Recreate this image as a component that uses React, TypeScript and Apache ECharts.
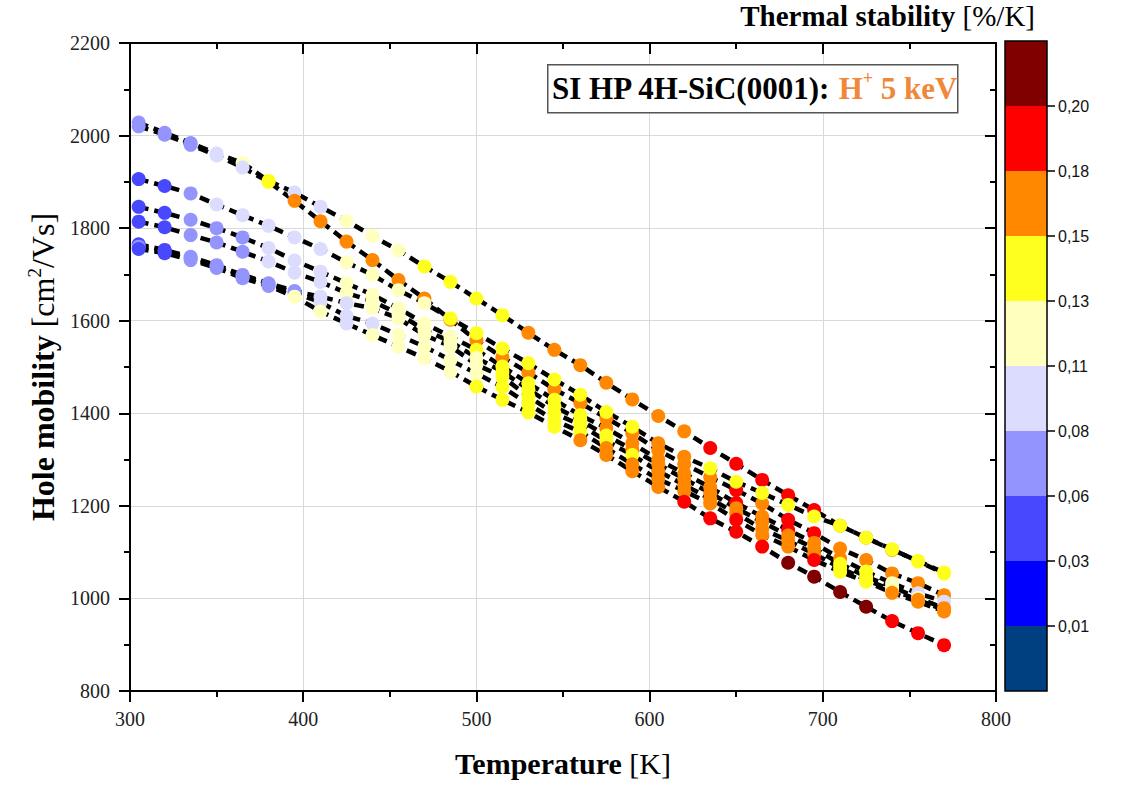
import { useEffect, useRef } from "react";
import * as echarts from "echarts";

// Temperature [K]
const temperatures = [305, 320, 335, 350, 365, 380, 395, 410, 425, 440, 455, 470, 485, 500, 515, 530, 545, 560, 575, 590, 605, 620, 635, 650, 665, 680, 695, 710, 725, 740, 755, 770];

// Hole mobility [cm2/Vs] per curve
const mobilityA = [2028, 2006, 1984, 1961, 1941, 1902, 1877, 1846, 1816, 1783, 1752, 1717, 1684, 1648, 1612, 1574, 1537, 1504, 1466, 1430, 1394, 1361, 1325, 1291, 1256, 1223, 1191, 1157, 1131, 1105, 1081, 1056];
const mobilityB = [2020, 2002, 1980, 1957, 1931, 1900, 1859, 1815, 1771, 1731, 1688, 1648, 1602, 1558, 1521, 1488, 1452, 1422, 1390, 1357, 1320, 1290, 1262, 1234, 1205, 1170, 1141, 1108, 1083, 1054, 1033, 1007];
const mobilityC = [1906, 1891, 1875, 1851, 1828, 1805, 1780, 1755, 1726, 1699, 1666, 1638, 1605, 1573, 1540, 1508, 1473, 1440, 1403, 1371, 1335, 1306, 1281, 1252, 1228, 1202, 1177, 1157, 1131, 1106, 1080, 1054];
const mobilityD = [1846, 1833, 1818, 1800, 1780, 1757, 1730, 1706, 1681, 1656, 1627, 1594, 1566, 1537, 1501, 1465, 1429, 1396, 1368, 1335, 1300, 1270, 1240, 1206, 1177, 1148, 1120, 1086, 1058, 1033, 1011, 993];
const mobilityE = [1814, 1802, 1785, 1769, 1749, 1728, 1704, 1684, 1660, 1642, 1615, 1580, 1555, 1520, 1490, 1452, 1415, 1385, 1352, 1322, 1290, 1258, 1228, 1195, 1165, 1136, 1108, 1075, 1047, 1025, 1001, 979];
const mobilityF = [1765, 1753, 1738, 1720, 1699, 1681, 1664, 1652, 1638, 1627, 1605, 1569, 1545, 1505, 1479, 1436, 1400, 1375, 1340, 1310, 1275, 1245, 1215, 1184, 1150, 1125, 1096, 1066, 1040, 1018, 997, 975];
const mobilityG = [1760, 1750, 1735, 1717, 1696, 1679, 1660, 1640, 1610, 1594, 1569, 1544, 1515, 1486, 1457, 1420, 1385, 1360, 1325, 1290, 1258, 1232, 1205, 1170, 1137, 1112, 1083, 1058, 1036, 1012, 993, 972];
const mobilityH = [1755, 1746, 1731, 1714, 1692, 1675, 1652, 1620, 1594, 1569, 1544, 1519, 1490, 1458, 1429, 1402, 1371, 1342, 1310, 1275, 1241, 1209, 1173, 1144, 1112, 1077, 1047, 1014, 982, 951, 925, 899];

// Thermal stability [%/K] per point
const stabilityA = [0.071, 0.069, 0.072, 0.094, 0.118, 0.141, 0.097, 0.099, 0.121, 0.124, 0.127, 0.136, 0.139, 0.142, 0.146, 0.152, 0.156, 0.159, 0.162, 0.165, 0.168, 0.172, 0.181, 0.185, 0.188, 0.191, 0.186, 0.172, 0.166, 0.158, 0.148, 0.144];
const stabilityB = [0.068, 0.07, 0.073, 0.091, 0.104, 0.143, 0.158, 0.162, 0.166, 0.168, 0.17, 0.171, 0.169, 0.167, 0.165, 0.163, 0.162, 0.164, 0.166, 0.168, 0.171, 0.174, 0.177, 0.182, 0.178, 0.184, 0.183, 0.176, 0.17, 0.165, 0.16, 0.155];
const stabilityC = [0.043, 0.048, 0.066, 0.085, 0.09, 0.096, 0.101, 0.106, 0.114, 0.118, 0.122, 0.127, 0.132, 0.135, 0.138, 0.14, 0.142, 0.144, 0.146, 0.148, 0.152, 0.154, 0.149, 0.147, 0.145, 0.143, 0.141, 0.139, 0.137, 0.136, 0.134, 0.133];
const stabilityD = [0.041, 0.046, 0.063, 0.068, 0.074, 0.084, 0.092, 0.1, 0.112, 0.116, 0.121, 0.125, 0.128, 0.133, 0.137, 0.14, 0.143, 0.147, 0.152, 0.156, 0.161, 0.167, 0.173, 0.181, 0.176, 0.182, 0.171, 0.158, 0.139, 0.121, 0.104, 0.097];
const stabilityE = [0.038, 0.044, 0.062, 0.067, 0.073, 0.083, 0.089, 0.097, 0.111, 0.114, 0.118, 0.121, 0.124, 0.128, 0.131, 0.135, 0.138, 0.142, 0.146, 0.151, 0.155, 0.16, 0.164, 0.169, 0.172, 0.168, 0.161, 0.146, 0.138, 0.125, 0.118, 0.157];
const stabilityF = [0.047, 0.05, 0.064, 0.069, 0.073, 0.076, 0.079, 0.086, 0.093, 0.113, 0.117, 0.12, 0.124, 0.127, 0.132, 0.136, 0.139, 0.143, 0.146, 0.149, 0.153, 0.158, 0.163, 0.167, 0.171, 0.165, 0.159, 0.147, 0.141, 0.124, 0.154, 0.162];
const stabilityG = [0.061, 0.052, 0.065, 0.07, 0.072, 0.075, 0.078, 0.083, 0.088, 0.095, 0.112, 0.116, 0.12, 0.125, 0.131, 0.135, 0.139, 0.145, 0.151, 0.155, 0.159, 0.164, 0.169, 0.183, 0.176, 0.173, 0.181, 0.146, 0.143, 0.156, 0.161, 0.166];
const stabilityH = [0.045, 0.049, 0.066, 0.071, 0.074, 0.077, 0.112, 0.115, 0.098, 0.117, 0.121, 0.125, 0.129, 0.133, 0.137, 0.141, 0.146, 0.151, 0.156, 0.162, 0.171, 0.182, 0.186, 0.19, 0.195, 0.203, 0.207, 0.21, 0.205, 0.197, 0.192, 0.188];

// Colour scale
const scaleThresholds = [0.01, 0.03, 0.06, 0.08, 0.11, 0.13, 0.15, 0.18, 0.2];
const scaleLabels = ["0,01", "0,03", "0,06", "0,08", "0,11", "0,13", "0,15", "0,18", "0,20"];
const scaleColors = ["#003F80", "#0000FF", "#4848FF", "#9494FF", "#DCDCFF", "#FFFFBE", "#FFFF1E", "#FF8800", "#FF0000", "#800000"];
const scaleBinHeights = [1, 1, 1, 1, 1, 1, 1, 1, 1, 1];

const curves = [
  { name: "A", mobility: mobilityA, stability: stabilityA },
  { name: "B", mobility: mobilityB, stability: stabilityB },
  { name: "C", mobility: mobilityC, stability: stabilityC },
  { name: "D", mobility: mobilityD, stability: stabilityD },
  { name: "E", mobility: mobilityE, stability: stabilityE },
  { name: "F", mobility: mobilityF, stability: stabilityF },
  { name: "G", mobility: mobilityG, stability: stabilityG },
  { name: "H", mobility: mobilityH, stability: stabilityH },
];

const SERIF = "'Liberation Serif', 'DejaVu Serif', serif";
const SANS = "'Liberation Sans', Arial, sans-serif";

function buildOption() {
  const lineSeries = curves.map((c) => ({
    type: "line",
    name: c.name + " line",
    xAxisIndex: 0,
    yAxisIndex: 0,
    data: temperatures.map((t, i) => [t, c.mobility[i]]),
    showSymbol: false,
    symbol: "none",
    silent: true,
    z: 2,
    lineStyle: { color: "#000", width: 4.5, type: [10, 6], cap: "butt", opacity: 1 },
  }));
  const scatterSeries = curves.map((c) => ({
    type: "scatter",
    name: c.name,
    xAxisIndex: 0,
    yAxisIndex: 0,
    data: temperatures.map((t, i) => [t, c.mobility[i], c.stability[i]]),
    symbol: "circle",
    symbolSize: 14,
    itemStyle: { opacity: 1 },
    z: 3,
  }));
  const barSeries = scaleColors.map((col, i) => ({
    type: "bar",
    name: "bin" + i,
    xAxisIndex: 2,
    yAxisIndex: 2,
    stack: "scale",
    data: [scaleBinHeights[i]],
    barWidth: "100%",
    barCategoryGap: 0,
    silent: true,
    itemStyle: { color: col },
  }));
  const scatterIdx = scatterSeries.map((_, i) => lineSeries.length + i);

  const pieces = scaleColors.map((col, i) => {
    if (i === 0) return { lt: scaleThresholds[0], color: col };
    if (i === scaleColors.length - 1) return { gte: scaleThresholds[i - 1], color: col };
    return { gte: scaleThresholds[i - 1], lt: scaleThresholds[i], color: col };
  });

  const scaleTickValues = scaleLabels.map((_, i) => i + 1);

  return {
    animation: false,
    backgroundColor: "#fff",
    grid: [
      { left: 130, top: 43, width: 866, height: 648, show: false },
      { left: 1005, top: 41, width: 42, height: 650, show: true, borderColor: "#000", borderWidth: 1.5, backgroundColor: "transparent", z: 10 },
    ],
    xAxis: [
      {
        type: "value", gridIndex: 0, min: 300, max: 800, interval: 100, position: "bottom",
        name: "{b|Temperature}{n| [K]}", nameLocation: "middle", nameGap: 57,
        nameTextStyle: { rich: { b: { fontFamily: SERIF, fontSize: 30, fontWeight: "bold", color: "#000" }, n: { fontFamily: SERIF, fontSize: 30, color: "#000" } } },
        axisLine: { show: true, lineStyle: { color: "#000", width: 2 } },
        axisTick: { show: true, inside: false, length: 11, lineStyle: { color: "#000", width: 2 } },
        minorTick: { show: true, splitNumber: 2, length: 6, lineStyle: { color: "#000", width: 2 } },
        axisLabel: { fontFamily: SERIF, fontSize: 20, color: "#222", margin: 18, formatter: (v: number) => String(v) },
        splitLine: { show: true, lineStyle: { color: "#D9D9D9", width: 1 } },
      },
      {
        type: "value", gridIndex: 0, min: 300, max: 800, interval: 100, position: "top",
        axisLine: { show: true, lineStyle: { color: "#000", width: 2 } },
        axisTick: { show: true, inside: true, length: 11, lineStyle: { color: "#000", width: 2 } },
        minorTick: { show: true, splitNumber: 2, length: 6, lineStyle: { color: "#000", width: 2 } },
        axisLabel: { show: false },
        splitLine: { show: false },
      },
      {
        type: "category", gridIndex: 1, data: [""], show: false,
      },
    ],
    yAxis: [
      {
        type: "value", gridIndex: 0, min: 800, max: 2200, interval: 200, position: "left",
        name: "{b|Hole mobility}{n| [cm}{s|2}{n|/Vs]}", nameLocation: "middle", nameGap: 68, nameRotate: 90,
        nameTextStyle: { rich: {
          b: { fontFamily: SERIF, fontSize: 32, fontWeight: "bold", color: "#000", lineHeight: 36 },
          n: { fontFamily: SERIF, fontSize: 32, color: "#000", lineHeight: 36 },
          s: { fontFamily: SERIF, fontSize: 19, color: "#000", verticalAlign: "top", lineHeight: 36 },
        } },
        axisLine: { show: true, lineStyle: { color: "#000", width: 2 } },
        axisTick: { show: true, inside: false, length: 11, lineStyle: { color: "#000", width: 2 } },
        minorTick: { show: true, splitNumber: 2, length: 6, lineStyle: { color: "#000", width: 2 } },
        axisLabel: { fontFamily: SERIF, fontSize: 20, color: "#222", margin: 20, formatter: (v: number) => String(v) },
        splitLine: { show: true, lineStyle: { color: "#D9D9D9", width: 1 } },
      },
      {
        type: "value", gridIndex: 0, min: 800, max: 2200, interval: 200, position: "right",
        axisLine: { show: true, lineStyle: { color: "#000", width: 2 } },
        axisTick: { show: true, inside: true, length: 11, lineStyle: { color: "#000", width: 2 } },
        minorTick: { show: true, splitNumber: 2, length: 6, lineStyle: { color: "#000", width: 2 } },
        axisLabel: { show: false },
        splitLine: { show: false },
      },
      {
        type: "value", gridIndex: 1, min: 0, max: 10, interval: 1, position: "right",
        axisLine: { show: false },
        axisTick: { show: true, inside: false, length: 8, customValues: scaleTickValues, lineStyle: { color: "#000", width: 1.5 } },
        axisLabel: {
          show: true, customValues: scaleTickValues, margin: 11,
          fontFamily: SANS, fontSize: 16, color: "#111",
          formatter: (v: number) => scaleLabels[Math.round(v) - 1] ?? "",
        },
        splitLine: { show: false },
      },
    ],
    visualMap: [
      { type: "piecewise", show: false, dimension: 2, seriesIndex: scatterIdx, pieces },
    ],
    graphic: [
      {
        type: "rect", left: 547, top: 64, z: 20,
        shape: { width: 410, height: 48 },
        style: { fill: "#fff", stroke: "#555", lineWidth: 1.5 },
      },
      {
        type: "text", left: 552, top: 69, z: 21,
        style: {
          text: "{b|SI HP 4H-SiC(0001): }{o|H}{s|+}{o| 5 keV}",
          rich: {
            b: { fontFamily: SERIF, fontSize: 31, fontWeight: "bold", fill: "#000", lineHeight: 38 },
            o: { fontFamily: SERIF, fontSize: 31, fontWeight: "bold", fill: "#F0883A", lineHeight: 38 },
            s: { fontFamily: SERIF, fontSize: 18, fontWeight: "bold", fill: "#F0883A", verticalAlign: "top", lineHeight: 38 },
          },
        },
      },
      {
        type: "text", right: 86, top: 1, z: 21,
        style: {
          text: "{b|Thermal stability}{n| [%/K]}",
          rich: {
            b: { fontFamily: SERIF, fontSize: 29, fontWeight: "bold", fill: "#000" },
            n: { fontFamily: SERIF, fontSize: 29, fill: "#000" },
          },
        },
      },
    ],
    series: [...lineSeries, ...scatterSeries, ...barSeries],
  };
}

export default function App() {
  const ref = useRef<HTMLDivElement>(null);
  useEffect(() => {
    const chart = echarts.init(ref.current!, null, { renderer: "svg" });
    chart.setOption(buildOption() as any);
    return () => chart.dispose();
  }, []);
  return (
    <div
      ref={ref}
      style={{ position: "fixed", left: 0, top: 0, width: 1121, height: 786, background: "#fff" }}
    />
  );
}
